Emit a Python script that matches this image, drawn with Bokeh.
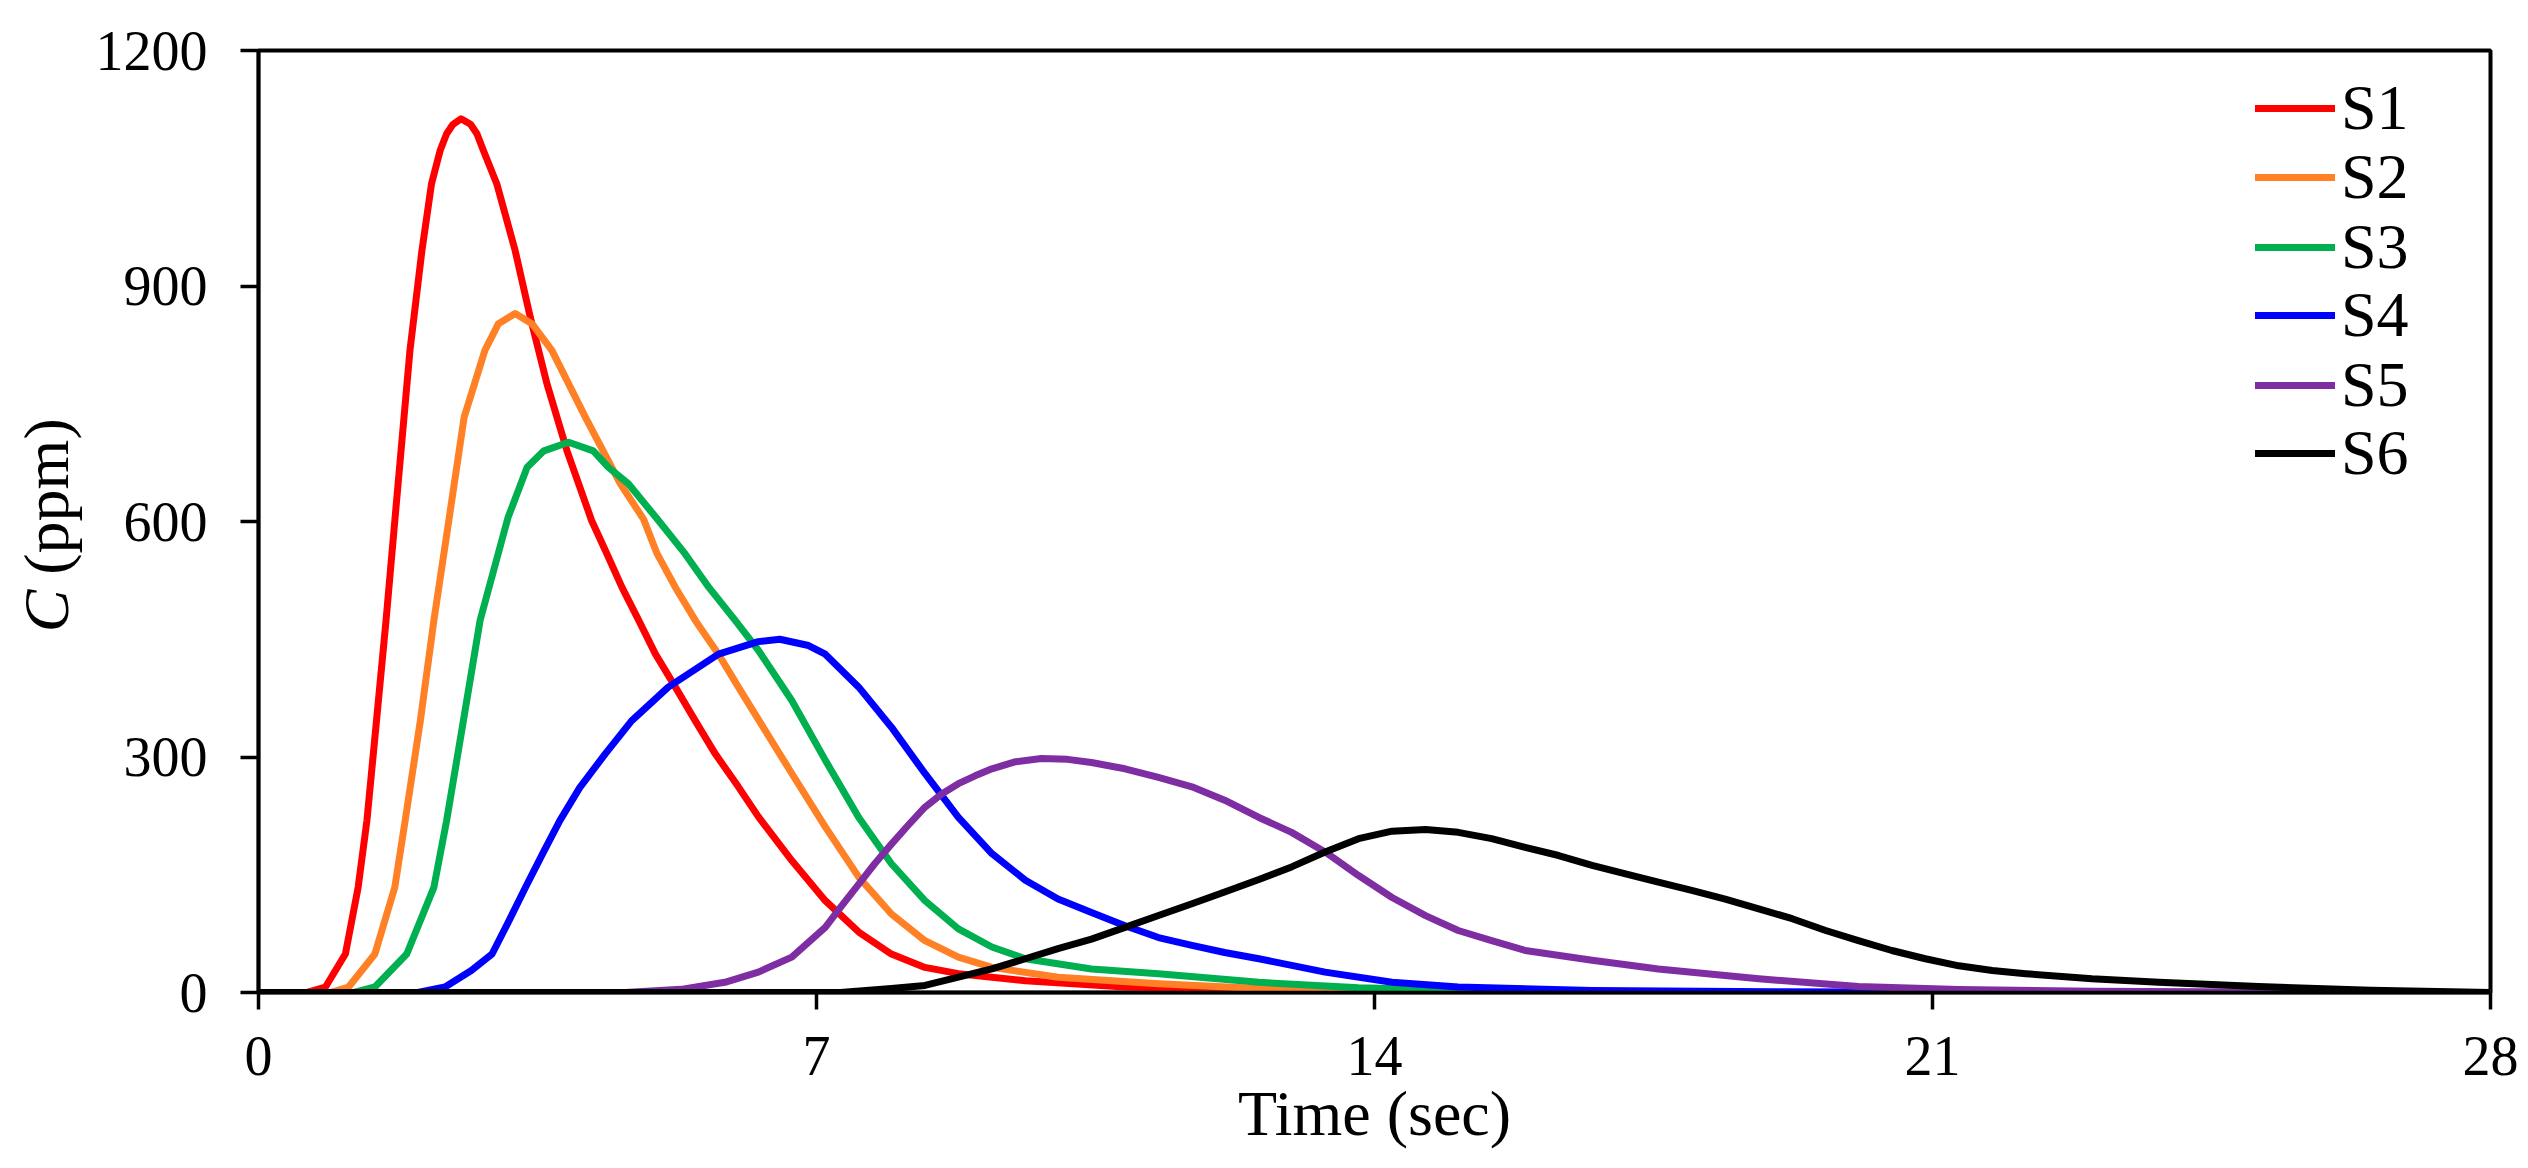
import math
from bokeh.plotting import figure
from bokeh.layouts import row
from bokeh.models import Range1d, FixedTicker, Legend, LegendItem
from bokeh.core.properties import value
from bokeh.embed import file_html
from bokeh.resources import INLINE

# ---------------- data ----------------
series_names = ["S1", "S2", "S3", "S4", "S5", "S6"]

s1_t = [0, 0.6, 0.84, 1.09, 1.25, 1.36, 1.48, 1.60, 1.71, 1.90, 2.05, 2.17, 2.28, 2.36, 2.44, 2.54, 2.66, 2.74, 2.82,
        2.99, 3.22, 3.41, 3.62, 3.87, 4.18, 4.37, 4.56, 4.77, 4.98, 5.23, 5.48, 5.73, 6.02, 6.27, 6.69, 7.11, 7.53,
        7.94, 8.36, 8.78, 9.62, 10.87, 12.5, 14.0, 16.0, 28.0]
s1_c = [0, 0, 7, 49, 134, 219, 346, 474, 601, 818, 945, 1030, 1073, 1094, 1106, 1113, 1106, 1094, 1073,
        1030, 945, 860, 775, 690, 601, 559, 516, 474, 431, 389, 346, 304, 262, 224, 168, 117, 77,
        49, 32, 24, 15, 7, 3, 1, 0, 0]

s2_t = [0, 0.9, 1.13, 1.46, 1.71, 1.84, 2.03, 2.20, 2.39, 2.58, 2.84, 3.01, 3.22, 3.43, 3.68, 4.10, 4.54, 4.83,
        5.00, 5.23, 5.48, 5.77, 6.02, 6.27, 6.69, 7.11, 7.53, 7.94, 8.36, 8.78, 9.20, 10.03, 11.29, 12.55, 14.5,
        16.0, 28.0]
s2_c = [0, 0, 7, 49, 134, 219, 346, 474, 603, 733, 818, 852, 865, 852, 818, 733, 648, 603,
        559, 516, 474, 431, 389, 348, 279, 211, 147, 100, 66, 45, 32, 19.5, 11, 5, 1,
        0, 0]

s3_t = [0, 1.2, 1.46, 1.86, 2.20, 2.36, 2.57, 2.78, 3.13, 3.37, 3.58, 3.89, 4.20, 4.39, 4.64, 5.02, 5.35, 5.65,
        5.98, 6.27, 6.69, 7.11, 7.53, 7.94, 8.36, 8.78, 9.20, 9.62, 10.45, 11.29, 12.55, 13.8, 15.5, 17.0, 28.0]
s3_c = [0, 0, 7, 49, 134, 219, 346, 474, 605, 669, 690, 701, 690, 669, 648, 601, 559, 516,
        474, 436, 372, 296, 223, 164, 117, 81, 58, 43, 30, 24, 13, 6, 2, 0, 0]

s4_t = [0, 2.0, 2.34, 2.67, 2.93, 3.14, 3.35, 3.56, 3.78, 4.03, 4.35, 4.68, 5.14, 5.77, 6.27, 6.54, 6.90, 7.11,
        7.53, 7.94, 8.36, 8.78, 9.20, 9.62, 10.03, 10.45, 10.87, 11.29, 11.71, 12.12, 12.55, 13.38, 14.22, 15.05,
        16.73, 19.0, 22.0, 28.0]
s4_c = [0, 0, 7, 28, 49, 91, 134, 176, 219, 261, 304, 346, 389, 431, 447, 450, 442, 431,
        389, 338, 279, 223, 177, 143, 119, 102, 85, 70, 60, 51, 43, 26, 13, 7,
        2.5, 1, 0, 0]

s5_t = [0, 4.6, 5.3, 5.85, 6.27, 6.69, 7.11, 7.32, 7.53, 7.73, 7.94, 8.15, 8.36, 8.57, 8.78, 8.99, 9.20, 9.50, 9.82,
        10.15, 10.45, 10.87, 11.29, 11.71, 12.12, 12.55, 12.96, 13.38, 13.80, 14.22, 14.64, 15.05, 15.47, 15.89,
        16.73, 17.56, 18.82, 20.07, 21.33, 23.0, 25.0, 28.0]
s5_c = [0, 0, 4, 13, 26, 45, 83, 111, 138, 164, 189, 213, 236, 253, 266, 276, 285, 294, 298,
        297, 293, 285, 274, 262, 245, 223, 204, 179, 149, 121, 98, 79, 66, 53.5,
        41, 30, 17.5, 7.6, 3.8, 1.7, 0.5, 0]

s6_t = [0, 7.3, 7.94, 8.36, 8.78, 9.20, 9.62, 10.03, 10.45, 10.87, 11.29, 11.71, 12.12, 12.55, 12.96, 13.38, 13.80,
        14.22, 14.64, 15.05, 15.47, 15.89, 16.31, 16.73, 17.15, 17.56, 17.98, 18.40, 18.82, 19.24, 19.66, 20.07,
        20.49, 20.91, 21.33, 21.75, 22.17, 23.0, 23.84, 25.09, 26.5, 28.0]
s6_c = [0, 0, 5, 9, 19.5, 30, 43, 56, 68, 83, 98, 113, 128, 144, 160, 179, 196,
        205.5, 207.6, 204, 196, 185, 174.5, 162, 151, 140.5, 130, 119, 106.6, 94, 79, 66,
        53.5, 43, 34, 28, 24, 17.5, 13, 7.6, 3, 0]

x_ticks = [0, 7, 14, 21, 28]
y_ticks = [0, 300, 600, 900, 1200]
x_title = "Time (sec)"
y_title_italic = "C"
y_title_rest = "(ppm)"

# ---------------- styling / layout ----------------
colors = ["#FF0000", "#FF8025", "#00B050", "#0000FF", "#7F2DA3", "#000000"]
FONT = "Liberation Serif"
PAGE_W, PAGE_H = 2528, 1168
FRAME_L, FRAME_T = 256, 50
FRAME_W, FRAME_H = 2232, 942
FRAME_B = FRAME_T + FRAME_H
SIDE_W = 92
X0, X1, Y0, Y1 = 0, 28, 0, 1200

# narrow strip holding the rotated y title (mixed italic / upright), each piece centred on its anchor
side = figure(width=SIDE_W, height=PAGE_H, x_range=Range1d(0, SIDE_W), y_range=Range1d(0, PAGE_H),
              x_axis_location=None, y_axis_location=None, min_border=0,
              output_backend="svg", toolbar_location=None, outline_line_color=None)
side.xgrid.visible = False
side.ygrid.visible = False
side.text(x=[46], y=[473], text=[y_title_italic], angle=math.pi / 2,
          text_font=value(FONT), text_font_style="italic", text_font_size="64px",
          text_align="center", text_baseline="middle", text_color="black")
side.text(x=[46], y=[615], text=[y_title_rest], angle=math.pi / 2,
          text_font=value(FONT), text_font_style="normal", text_font_size="64px",
          text_align="center", text_baseline="middle", text_color="black")

p = figure(frame_width=FRAME_W, frame_height=FRAME_H,
           min_border_left=FRAME_L - SIDE_W, min_border_right=PAGE_W - FRAME_L - FRAME_W,
           min_border_top=FRAME_T, min_border_bottom=PAGE_H - FRAME_B,
           x_range=Range1d(X0, X1), y_range=Range1d(Y0, Y1),
           output_backend="svg", toolbar_location=None, background_fill_color="white",
           border_fill_color="white")
p.xgrid.visible = False
p.ygrid.visible = False
p.outline_line_color = "black"
p.outline_line_width = 4

for ax, ticks, out, standoff in ((p.xaxis[0], x_ticks, 17, 27), (p.yaxis[0], y_ticks, 18, 33)):
    ax.ticker = FixedTicker(ticks=ticks)
    ax.minor_tick_line_color = None
    ax.major_tick_in = 0
    ax.major_tick_out = out
    ax.major_tick_line_width = 3.5
    ax.major_tick_line_color = "black"
    ax.axis_line_width = 3.5
    ax.axis_line_color = "black"
    ax.major_label_text_font = FONT
    ax.major_label_text_font_size = "56px"
    ax.major_label_text_color = "black"
    ax.major_label_standoff = standoff

p.xaxis[0].axis_label = x_title
p.xaxis[0].axis_label_text_font = FONT
p.xaxis[0].axis_label_text_font_size = "64px"
p.xaxis[0].axis_label_text_font_style = "normal"
p.xaxis[0].axis_label_text_color = "black"
p.xaxis[0].axis_label_standoff = 0

all_t = [s1_t, s2_t, s3_t, s4_t, s5_t, s6_t]
all_c = [s1_c, s2_c, s3_c, s4_c, s5_c, s6_c]
renderers = []
for t, c, col in zip(all_t, all_c, colors):
    r = p.line(t, c, line_color=col, line_width=7, line_join="round", line_cap="round")
    renderers.append(r)

# one legend entry per row so that the row pitch matches the reference exactly
row_centers = [108, 177, 247, 315, 385, 453]   # page y of each legend row
ITEM_H = 80
for name, r, yc in zip(series_names, renderers, row_centers):
    lg = Legend(items=[LegendItem(label=name, renderers=[r])],
                location=(2253 - FRAME_L, FRAME_B - yc - ITEM_H / 2), orientation="vertical",
                glyph_width=80, glyph_height=ITEM_H, label_height=ITEM_H, label_standoff=6,
                spacing=0, padding=0, margin=0,
                border_line_alpha=0, background_fill_alpha=0,
                label_text_font=FONT, label_text_font_size="64px", label_text_color="black")
    p.add_layout(lg)

layout = row(side, p, spacing=0)
open("out.html", "w").write(file_html(layout, INLINE))
